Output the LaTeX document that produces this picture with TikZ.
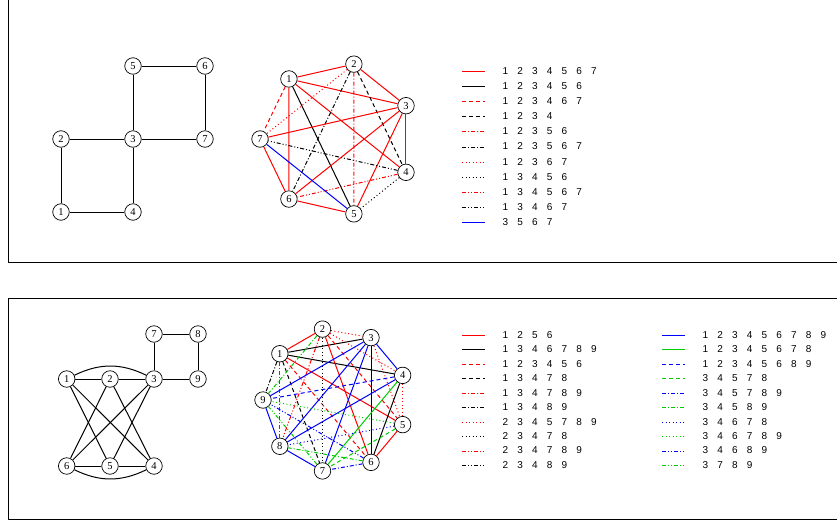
\documentclass[tikz,border=0pt]{standalone}
\usepackage{fontspec}
\setmainfont{Liberation Serif}
\setsansfont{Liberation Sans}
\newcommand\legfont{\sffamily\fontsize{10}{12}\selectfont\spaceskip=9.2pt\relax}
\tikzset{
  vtx/.style={draw, circle, inner sep=0pt, minimum size=16.5pt, line width=0.7pt, font=\fontsize{10.5}{12}\selectfont},
  leg/.style={anchor=west, inner sep=0pt, font=\legfont},
  sol/.style={solid},
  dsh/.style={dash pattern=on 4pt off 3pt},
  dd/.style={dash pattern=on 4pt off 2pt on 1pt off 2pt},
  dt/.style={dash pattern=on 1pt off 2.5pt},
  ddd/.style={dash pattern=on 4pt off 2pt on 1pt off 2pt on 1pt off 2pt},
  grn/.style={color={rgb,255:red,0;green,205;blue,0}},
}
\begin{document}
\begin{tikzpicture}[x=1pt, y=-1pt, line width=1pt, line join=round]
\useasboundingbox (0,0) rectangle (837,522);
\clip (0,0) rectangle (837,522);
\draw[line width=0.8pt] (8.5,-10) rectangle (850,262.5);
\draw[line width=0.8pt] (8.5,298.5) rectangle (850,519.5);
% top graph
\foreach \n/\x/\y in {1/61/212, 2/61/139, 3/133/139, 4/133/212, 5/133/66, 6/205/66, 7/205/139}
  \node[vtx] (a\n) at (\x,\y) {\n};
\foreach \a/\b in {1/2, 2/3, 3/4, 4/1, 3/5, 5/6, 6/7, 7/3}
  \draw (a\a) -- (a\b);
% heptagon
\def\cx{336.8}\def\cy{139}\def\rad{76.8}
\foreach \k in {1,...,7}
  \node[vtx] (h\k) at ({\cx+\rad*cos(180-\k*360/7)}, {\cy-\rad*sin(180-\k*360/7)}) {\k};
\foreach \a/\b/\c/\s in {1/2/red/sol, 1/3/red/sol, 1/4/red/sol, 1/5/black/sol, 1/6/red/sol, 1/7/red/dsh,
    2/3/red/sol, 2/4/black/dsh, 2/5/red/dd, 2/6/black/dd, 2/7/red/dt,
    3/4/red/sol, 3/5/red/sol, 3/6/red/sol, 3/7/red/sol,
    4/5/black/dt, 4/6/red/ddd, 4/7/black/ddd, 5/6/red/sol, 5/7/blue/sol, 6/7/red/sol}
  \draw[\c,\s] (h\a) -- (h\b);
% top legend
\foreach \c/\s/\t [count=\i] in {red/sol/{1 2 3 4 5 6 7}, black/sol/{1 2 3 4 5 6}, red/dsh/{1 2 3 4 6 7},
    black/dsh/{1 2 3 4}, red/dd/{1 2 3 5 6}, black/dd/{1 2 3 5 6 7}, red/dt/{1 2 3 6 7},
    black/dt/{1 3 4 5 6}, red/ddd/{1 3 4 5 6 7}, black/ddd/{1 3 4 6 7}, blue/sol/{3 5 6 7}}{
  \coordinate (tl\i) at (462,{round(71+15.1*(\i-1))+0.5});
  \draw[\c,\s,line width=1.2pt] (tl\i) -- ++(23,0);
  \node[leg] (tt\i) at (502,{71+15.1*(\i-1)}) {\t};
}
% bottom graph
\foreach \n/\x/\y in {1/66.7/379, 2/110/379, 3/154/379, 9/198/379, 7/154/334, 8/198/334, 6/66.7/466, 5/110/466, 4/154/466}
  \node[vtx] (b\n) at (\x,\y) {\n};
\foreach \a/\b in {1/2, 2/3, 3/9, 3/7, 7/8, 8/9, 6/5, 5/4, 1/5, 1/4, 2/6, 2/4, 3/6, 3/5}
  \draw (b\a) -- (b\b);
\draw (b1) to[bend left=26] (b3);
\draw (b6) to[bend right=26] (b4);
% nonagon
\def\cx{335}\def\cy{400}\def\rad{72}
\foreach \k in {1,...,9}
  \node[vtx] (n\k) at ({\cx+\rad*cos(180-\k*40)}, {\cy-\rad*sin(180-\k*40)}) {\k};
\foreach \a/\b/\c/\s in {1/2/red/sol, 1/3/black/sol, 1/4/black/sol, 1/5/red/sol, 1/6/red/dsh, 1/7/black/dsh,
    1/8/red/dd, 1/9/black/dd, 2/3/red/dt, 2/4/red/dt, 2/5/red/dsh, 2/6/red/sol, 2/7/black/dt,
    2/8/red/ddd, 2/9/grn/dd, 3/4/blue/sol, 3/5/red/dt, 3/6/black/sol, 3/7/blue/sol, 3/8/blue/sol,
    3/9/blue/sol, 4/5/red/dt, 4/6/black/sol, 4/7/grn/sol, 4/8/blue/sol, 4/9/blue/dsh, 5/6/red/sol,
    5/7/grn/dsh, 5/8/blue/dt, 5/9/grn/dt, 6/7/blue/dd, 6/8/grn/dd, 6/9/blue/ddd, 7/8/blue/sol,
    7/9/grn/ddd, 8/9/blue/sol}
  \draw[\c,\s] (n\a) -- (n\b);
% bottom legends
\foreach \c/\s/\t [count=\i] in {red/sol/{1 2 5 6}, black/sol/{1 3 4 6 7 8 9}, red/dsh/{1 2 3 4 5 6},
    black/dsh/{1 3 4 7 8}, red/dd/{1 3 4 7 8 9}, black/dd/{1 3 4 8 9}, red/dt/{2 3 4 5 7 8 9},
    black/dt/{2 3 4 7 8}, red/ddd/{2 3 4 7 8 9}, black/ddd/{2 3 4 8 9}}{
  \coordinate (bl\i) at (462,{round(335+14.44*(\i-1))+0.5});
  \draw[\c,\s,line width=1.2pt] (bl\i) -- ++(23,0);
  \node[leg] (bt\i) at (502,{335+14.44*(\i-1)}) {\t};
}
\foreach \c/\s/\t [count=\i] in {blue/sol/{1 2 3 4 5 6 7 8 9}, grn/sol/{1 2 3 4 5 6 7 8}, blue/dsh/{1 2 3 4 5 6 8 9},
    grn/dsh/{3 4 5 7 8}, blue/dd/{3 4 5 7 8 9}, grn/dd/{3 4 5 8 9}, blue/dt/{3 4 6 7 8},
    grn/dt/{3 4 6 7 8 9}, blue/ddd/{3 4 6 8 9}, grn/ddd/{3 7 8 9}}{
  \coordinate (br\i) at (662,{round(335+14.44*(\i-1))+0.5});
  \draw[\c,\s,line width=1.2pt] (br\i) -- ++(23,0);
  \node[leg] (rt\i) at (702,{335+14.44*(\i-1)}) {\t};
}
\end{tikzpicture}
\end{document}
